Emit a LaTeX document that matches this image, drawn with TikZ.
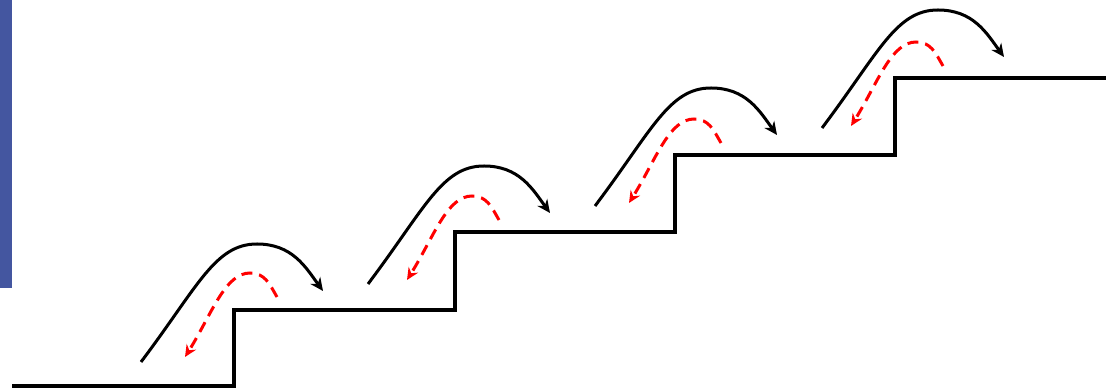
\documentclass[tikz,border=0pt]{standalone}
\usepackage{tikz}
\usetikzlibrary{arrows.meta}
\definecolor{slideblue}{HTML}{4456A0}
\definecolor{slipred}{HTML}{FF0000}
\tikzset{
  stair/.style={line width=4pt,draw=black,line join=miter},
  hop/.style  ={-{Stealth[length=13pt,width=12pt,inset=4pt]},line width=3pt,draw=black},
  slip/.style ={-{Stealth[length=12pt,width=11pt,inset=4pt]},line width=3pt,draw=slipred,
                dash pattern=on 11pt off 7pt}
}
\begin{document}
\begin{tikzpicture}[x=1pt,y=1pt]
  \useasboundingbox (0,0) rectangle (1106,390);
  \fill[slideblue] (0,102) rectangle (12,390);
  % staircase
  \draw[stair] (12,4) -| (234,80) -| (455,158) -| (675,235) -| (895,312) -- (1106,312);
  % one jump up and one slip back on every step
  \foreach \i in {0,...,3}{
    \coordinate (take\i)  at ({141+227*\i},{28+78*\i});
    \coordinate (apex\i)  at ({257+227*\i},{146+78*\i});
    \coordinate (land\i)  at ({323+227*\i},{99+78*\i});
    \coordinate (back\i)  at ({277+222*\i},{93+77*\i});
    \coordinate (crest\i) at ({250+222*\i},{117+77*\i});
    \coordinate (fall\i)  at ({185+222*\i},{33+77*\i});
    \draw[hop]  (take\i) to[out=53,in=180,out distance=95pt,in distance=42pt] (apex\i)
                         to[out=0,in=126,out distance=35pt,in distance=30pt] (land\i);
    \draw[slip] (back\i) to[out=120,in=0,out distance=15pt,in distance=15pt] (crest\i)
                         to[out=180,in=58,out distance=25pt,in distance=50pt] (fall\i);
  }
\end{tikzpicture}
\end{document}
